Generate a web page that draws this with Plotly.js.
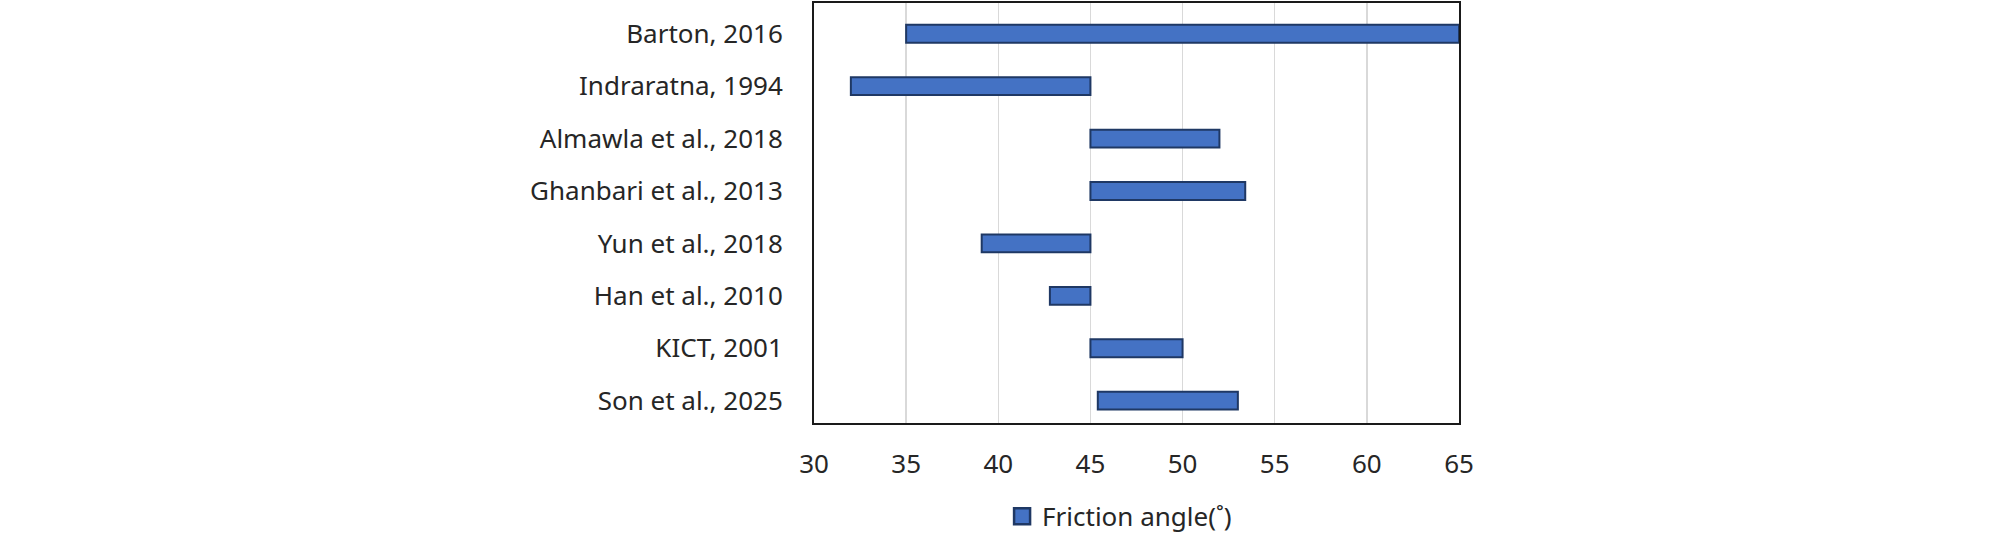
<!DOCTYPE html>
<html>
<head>
<meta charset="utf-8">
<script src="https://cdn.plot.ly/plotly-3.0.1.min.js"></script>
<style>html,body{margin:0;padding:0;background:#fff;}#chart{width:2008px;height:534px;}</style>
</head>
<body>
<div id="chart"></div>
<script>
const studies = ["Barton, 2016", "Indraratna, 1994", "Almawla et al., 2018", "Ghanbari et al., 2013",
                 "Yun et al., 2018", "Han et al., 2010", "KICT, 2001", "Son et al., 2025"];
const angleMin = [35, 32, 45, 45, 39.1, 42.8, 45, 45.4];
const angleMax = [65, 45, 52, 53.4, 45, 45, 50, 53];
const xTicks = [30, 35, 40, 45, 50, 55, 60, 65];
const seriesName = "Friction angle(˚)";

const spans = angleMax.map((v, i) => v - angleMin[i]);
const FONT = '"Noto Sans", "DejaVu Sans", sans-serif';
const BAR_FILL = '#4472C4', BAR_EDGE = '#1F3864';

const bars = {
  type: 'bar',
  orientation: 'h',
  y: studies,
  x: spans,
  base: angleMin,
  width: 0.34,
  name: seriesName,
  showlegend: false,
  marker: {color: BAR_FILL, line: {color: BAR_EDGE, width: 2}},
  hoverinfo: 'none'
};
// legend entry for the series (larger square swatch than the bar legend glyph)
const legendKey = {
  type: 'scatter', mode: 'markers',
  x: [null], y: [null],
  name: seriesName, showlegend: true,
  marker: {symbol: 'square', size: 16, color: BAR_FILL, line: {color: BAR_EDGE, width: 2.5}},
  hoverinfo: 'none'
};

const layout = {
  width: 2008, height: 534,
  margin: {l: 814, r: 549, t: 3, b: 111, pad: 0, autoexpand: false},
  paper_bgcolor: '#ffffff', plot_bgcolor: '#ffffff',
  font: {family: FONT, size: 26, color: '#262626'},
  bargap: 0,
  xaxis: {
    range: [30, 65], tickvals: xTicks, ticktext: xTicks.map(String),
    showgrid: true, gridcolor: '#D9D9D9', gridwidth: 1.5,
    showline: true, linecolor: '#1a1a1a', linewidth: 2, mirror: true,
    ticks: '', zeroline: false, ticklabelstandoff: 17,
    tickfont: {family: FONT, size: 26, color: '#262626'}
  },
  yaxis: {
    type: 'category', categoryorder: 'array', categoryarray: studies,
    range: [7.426, -0.586],
    showgrid: false, showline: true, linecolor: '#1a1a1a', linewidth: 2, mirror: true,
    ticks: '', zeroline: false, ticklabelstandoff: 24,
    tickfont: {family: FONT, size: 26, color: '#262626'}
  },
  showlegend: true,
  legend: {
    orientation: 'h', x: 0.2916, xanchor: 'left', y: -0.222, yanchor: 'middle',
    font: {family: FONT, size: 26, color: '#262626'}, bgcolor: 'rgba(0,0,0,0)'
  }
};

Plotly.newPlot('chart', [bars, legendKey], layout, {staticPlot: true, displayModeBar: false});
</script>
</body>
</html>
